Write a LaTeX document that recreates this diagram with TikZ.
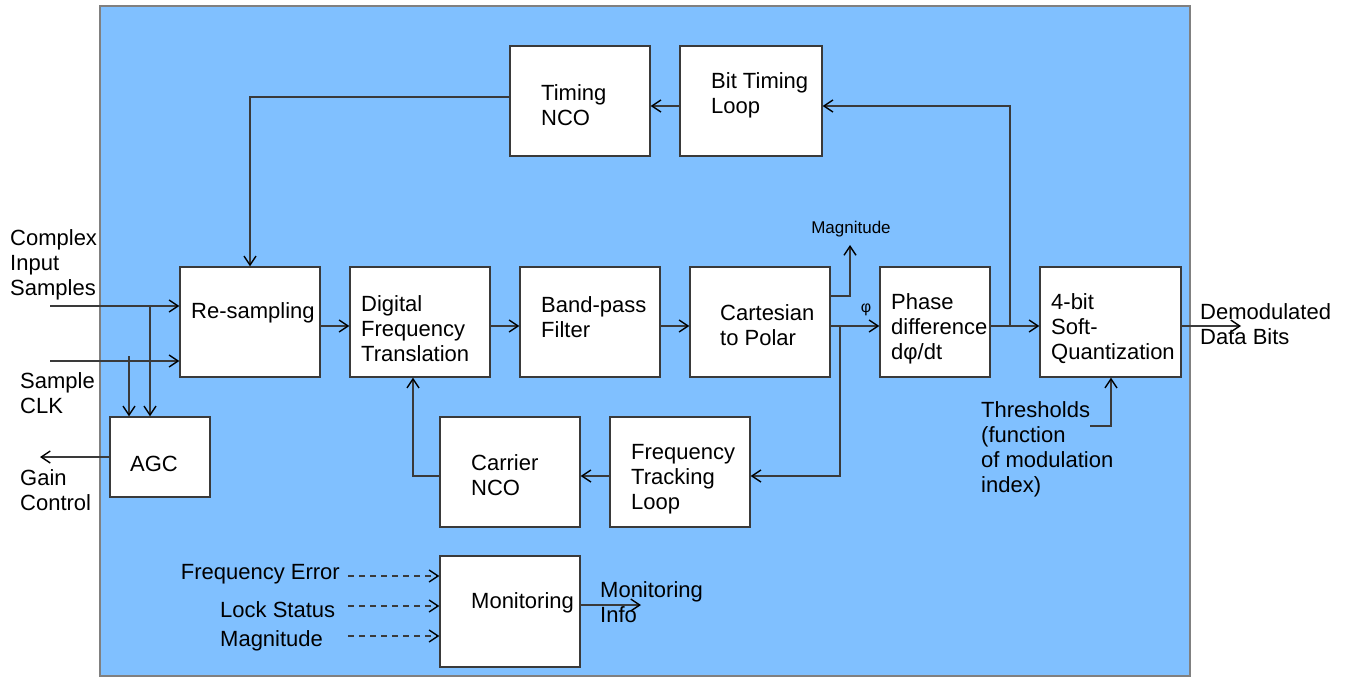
\documentclass[tikz,border=0pt]{standalone}
\usepackage{fontspec}
\setmainfont{Liberation Sans}
\usetikzlibrary{arrows.meta,positioning}
\definecolor{panelblue}{HTML}{80C0FF}
\definecolor{edgegray}{HTML}{3A3A3A}
\def\bigtext{\fontsize{22}{25}\selectfont}
\def\smalltext{\fontsize{17}{20}\selectfont}
\tikzset{
  block/.style={draw=edgegray, fill=white, line width=1.3pt, minimum width=140, minimum height=110, inner sep=0pt},
  wire/.style={draw=edgegray, line width=1.3pt},
  feed/.style={wire, -{Straight Barb[length=9pt,width=12pt,line width=1.4pt,color=black]}},
  dfeed/.style={feed, dashed, dash pattern=on 6pt off 5pt},
  hint/.style={align=left, inner sep=0pt, font=\bigtext, anchor=west},
}

\begin{document}
\begin{tikzpicture}[x=1pt, y=-1pt]
		%%%%% START %%%%%
		\useasboundingbox (0, 0) rectangle (1345, 677);
		\draw[fill=panelblue, draw=gray, line width=1.3pt] (100, 6) rectangle (1190, 676);
		
		% main chain
		\node[block] (rs) at (250, 322) {};
		\node[block] (dft) at (420, 322) {};
		\node[block] (bpf) at (590, 322) {};
		\node[block] (c2p) at (760, 322) {};
		\node[block, minimum width=110] (pd) at (935, 322) {};
		\node[block, minimum width=141] (quant) at (1110.5, 322) {};
		
		% loops
		\node[block] (tnco) at (580, 101) {};
		\node[block, minimum width=142] (btl) at (751, 101) {};
		\node[block] (cnco) at (510, 472) {};
		\node[block] (ftl) at (680, 472) {};
		\node[block, minimum width=100, minimum height=80] (agc) at (160, 457) {};
		\node[block, minimum height=111] (mon) at (510, 611.5) {};
		
		% block texts
		\node[hint] (rs-t) at (191, 313) {Re-sampling};
		\node[hint] (dft-t) at (361, 329) {Digital\\Frequency\\Translation};
		\node[hint] (bpf-t) at (541, 317) {Band-pass\\Filter};
		\node[hint] (c2p-t) at (720, 325) {Cartesian\\to Polar};
		\node[hint] (pd-t) at (891, 329) {Phase\\difference\\dφ/dt};
		\node[hint] (quant-t) at (1051, 329) {4-bit\\Soft-\\Quantization};
		\node[hint] (tnco-t) at (541, 105) {Timing\\NCO};
		\node[hint] (btl-t) at (711, 95) {Bit Timing\\Loop};
		\node[hint] (agc-t) at (130, 464) {AGC};
		\node[hint] (cnco-t) at (471, 475) {Carrier\\NCO};
		\node[hint] (ftl-t) at (631, 479) {Frequency\\Tracking\\Loop};
		\node[hint] (mon-t) at (471, 603) {Monitoring};
		
		% outside texts
		\node[hint] (lcis) at (10, 265) {Complex\\Input\\Samples};
		\node[hint] (lclk) at (20, 393) {Sample\\CLK};
		\node[hint] (lgain) at (20, 490) {Gain\\Control};
		\node[hint] (ldemod) at (1200, 324) {Demodulated\\Data Bits};
		\node[hint] (linfo) at (600, 602) {Monitoring\\Info};
		\node[hint] (lthr) at (981, 449) {Thresholds\\(function\\of modulation\\index)};
		\node[hint, anchor=east] (lferr) at (340, 574) {Frequency Error};
		\node[hint] (llock) at (220, 610) {Lock Status};
		\node[hint] (lmag) at (220, 641) {Magnitude};
		\node[inner sep=0pt, font=\smalltext] (mag) at (851, 229) {Magnitude};
		\node[inner sep=0pt, font=\fontsize{16}{18}\selectfont] (phi) at (866, 310) {φ};
		
		% free ends and taps
		\coordinate (cin) at (50, 306);
		\coordinate (clk) at (50, 361);
		\coordinate (tapA) at (150, 306);
		\coordinate (tapB) at (129, 356);
		\coordinate (gain) at (40, 457);
		\coordinate (magtip) at (850, 245);
		\coordinate (tapD) at (840, 326);
		\coordinate (tapC) at (1010, 326);
		\coordinate (dout) at (1241, 326);
		\coordinate (thr) at (1090, 426);
		\coordinate (minfo) at (641, 605);
		\coordinate (dsA) at (348, 576);
		\coordinate (dsB) at (348, 606);
		\coordinate (dsC) at (348, 636);
		
		% inputs and AGC
		\draw[feed] (cin) -- (cin -| rs.west);
		\draw[feed] (clk) -- (clk -| rs.west);
		\draw[feed] (tapA) -- (tapA |- agc.north);
		\draw[feed] (tapB) -- (tapB |- agc.north);
		\draw[feed] (agc.west) -- (gain);
		
		% forward path
		\draw[feed] ([yshift=-4]rs.east) -- ([yshift=-4]dft.west);
		\draw[feed] ([yshift=-4]dft.east) -- ([yshift=-4]bpf.west);
		\draw[feed] ([yshift=-4]bpf.east) -- ([yshift=-4]c2p.west);
		\draw[feed] ([yshift=-4]c2p.east) -- ([yshift=-4]pd.west);
		\draw[feed] ([yshift=-4]pd.east) -- ([yshift=-4]quant.west);
		\draw[feed] ([yshift=-4]quant.east) -- (dout);
		\draw[feed] ([yshift=26]c2p.east) -| (magtip);
		
		% timing loop
		\draw[feed] (tapC) |- ([yshift=-5]btl.east);
		\draw[feed] ([yshift=-5]btl.west) -- ([yshift=-5]tnco.east);
		\draw[feed] ([yshift=4]tnco.west) -| (rs.north);
		
		% carrier loop
		\draw[feed] (tapD) |- ([yshift=-4]ftl.east);
		\draw[feed] ([yshift=-4]ftl.west) -- ([yshift=-4]cnco.east);
		\draw[feed] ([yshift=-4]cnco.west) -| ([xshift=-7]dft.south);
		
		% thresholds
		\draw[feed] (thr) -| ([xshift=0.5]quant.south);
		
		% monitoring
		\draw[dfeed] (dsA) -- (dsA -| mon.west);
		\draw[dfeed] (dsB) -- (dsB -| mon.west);
		\draw[dfeed] (dsC) -- (dsC -| mon.west);
		\draw[feed] (mon.east |- minfo) -- (minfo);
		%%%%% END %%%%%
\end{tikzpicture}
\end{document}
